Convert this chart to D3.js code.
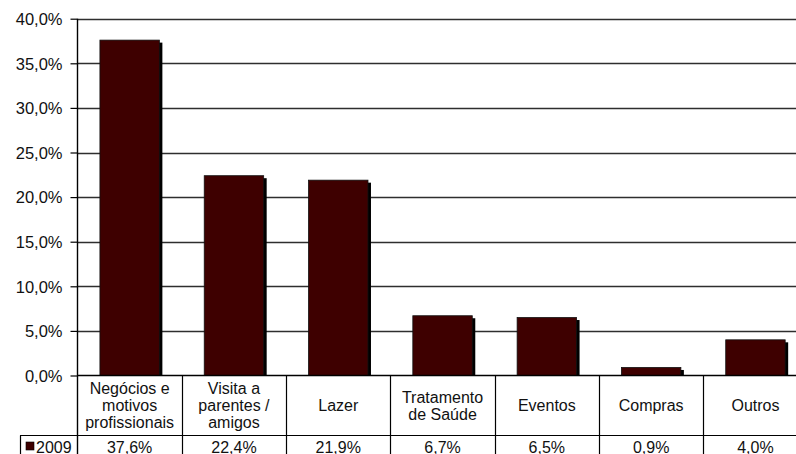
<!DOCTYPE html>
<html>
<head>
<meta charset="utf-8">
<script src="https://cdn.jsdelivr.net/npm/d3@7"></script>
<style>
html,body{margin:0;padding:0;background:#fff;overflow:hidden;}
svg{display:block;font-family:"Liberation Sans",Arial,sans-serif;}
</style>
</head>
<body>
<svg id="chart" width="796" height="454"></svg>
<script>
const categories = ["Negócios e\nmotivos\nprofissionais", "Visita a\nparentes /\namigos", "Lazer", "Tratamento\nde Saúde", "Eventos", "Compras", "Outros"];
const values2009 = [37.6, 22.4, 21.9, 6.7, 6.5, 0.9, 4.0];
const seriesName = "2009";
const yTicks = [0, 5, 10, 15, 20, 25, 30, 35, 40];

const svg = d3.select("#chart");
const left = 77.5, bandW = 104.3;
const x = d3.scaleBand().domain(categories).range([left, left + bandW * categories.length]).padding(0);
const y = d3.scaleLinear().domain([0, 40]).range([375.5, 18.7]);
const fmt = v => d3.format(".1f")(v).replace(".", ",") + "%";
const W = 796;
const barColor = "#3e0000";
const textColor = "#111";

// gridlines
svg.append("g").selectAll("line").data(yTicks.filter(d => d > 0)).join("line")
  .attr("x1", left).attr("x2", W).attr("y1", d => Math.round(y(d)) + 0.5).attr("y2", d => Math.round(y(d)) + 0.5)
  .attr("stroke", "#2e2e2e").attr("stroke-width", 1.4);

// y axis
const yAxis = d3.axisLeft(y).tickValues(yTicks).tickFormat(fmt).tickSize(7).tickPadding(8);
const ga = svg.append("g").attr("transform", `translate(${left},0)`).call(yAxis);
ga.select(".domain").remove();
ga.selectAll(".tick line").attr("stroke", "#000").attr("stroke-width", 1.2);
ga.selectAll(".tick text").attr("font-size", 16.5).attr("fill", textColor).attr("font-family", "Liberation Sans, Arial, sans-serif").attr("dy", "0.35em");

// clip for shadows
svg.append("clipPath").attr("id", "plotclip").append("rect")
  .attr("x", left).attr("y", 0).attr("width", W).attr("height", y(0) - 0.5);

const bw = bandW * 0.57;
// shadows
svg.append("g").attr("clip-path", "url(#plotclip)").selectAll("rect").data(values2009).join("rect")
  .attr("x", (d, i) => x(categories[i]) + (bandW - bw) / 2 + 3)
  .attr("y", d => y(d) + 2.5)
  .attr("width", bw).attr("height", d => y(0) - y(d))
  .attr("fill", "#000");
// bars
svg.append("g").selectAll("rect").data(values2009).join("rect")
  .attr("x", (d, i) => x(categories[i]) + (bandW - bw) / 2)
  .attr("y", d => y(d))
  .attr("width", bw).attr("height", d => y(0) - y(d))
  .attr("fill", barColor).attr("stroke", "#111").attr("stroke-width", 0.8);

// axis line (vertical) extending through table
svg.append("line").attr("x1", left).attr("x2", left).attr("y1", y(40)).attr("y2", 454)
  .attr("stroke", "#000").attr("stroke-width", 1.4);

// table
const rowTop = 375.5, rowMid = 435.5, bottom = 454;
svg.append("line").attr("x1", left).attr("x2", W).attr("y1", rowTop).attr("y2", rowTop).attr("stroke", "#000").attr("stroke-width", 1.4);
svg.append("line").attr("x1", 20).attr("x2", W).attr("y1", rowMid).attr("y2", rowMid).attr("stroke", "#000").attr("stroke-width", 1.2);
svg.append("line").attr("x1", 20.5).attr("x2", 20.5).attr("y1", rowMid).attr("y2", bottom).attr("stroke", "#000").attr("stroke-width", 1.2);
svg.append("g").selectAll("line").data(categories).join("line")
  .attr("x1", d => Math.round(x(d) + bandW) + 0.5).attr("x2", d => Math.round(x(d) + bandW) + 0.5)
  .attr("y1", rowTop).attr("y2", bottom).attr("stroke", "#000").attr("stroke-width", 1.2);

// header labels
const lh = 17;
categories.forEach(c => {
  const lines = c.split("\n");
  const cx = x(c) + bandW / 2;
  const base = 411 - (lines.length - 1) * lh / 2;
  const t = svg.append("text").attr("text-anchor", "middle").attr("font-size", 16).attr("fill", textColor);
  lines.forEach((ln, j) => t.append("tspan").attr("x", cx).attr("y", base + j * lh).text(ln));
});

// data row
svg.append("g").selectAll("text").data(values2009).join("text")
  .attr("x", (d, i) => x(categories[i]) + bandW / 2).attr("y", 452.5)
  .attr("text-anchor", "middle").attr("font-size", 16).attr("fill", textColor)
  .text(d => fmt(d));

// legend key
svg.append("rect").attr("x", 26).attr("y", 442).attr("width", 8).attr("height", 8).attr("fill", barColor).attr("stroke", "#000").attr("stroke-width", 0.6);
svg.append("text").attr("x", 36).attr("y", 452.5).attr("font-size", 16).attr("fill", textColor).text(seriesName);
</script>
</body>
</html>
